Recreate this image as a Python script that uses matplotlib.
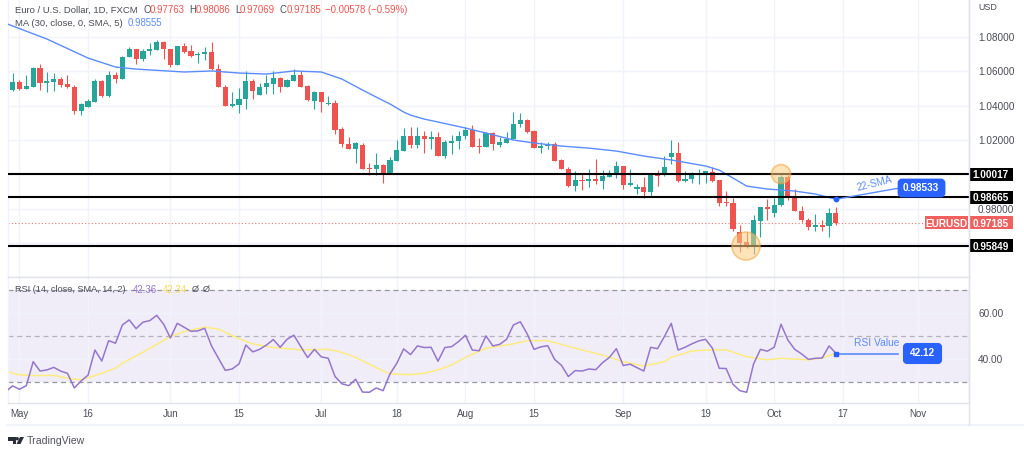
import numpy as np
import matplotlib
matplotlib.use("Agg")
import matplotlib.pyplot as plt
from matplotlib.patches import Rectangle, FancyBboxPatch, Ellipse, Circle, Polygon
from matplotlib.transforms import IdentityTransform

plt.rcParams['font.family'] = ['Liberation Sans', 'DejaVu Sans']

# EUR/USD daily candles
opens = [1.0491, 1.0538, 1.0495, 1.0511, 1.0619, 1.0534, 1.0540, 1.0557, 1.0524, 1.0511,
         1.0371, 1.0394, 1.0423, 1.0544, 1.0456, 1.0580, 1.0557, 1.0681, 1.0732, 1.0670,
         1.0720, 1.0724, 1.0773, 1.0732, 1.0639, 1.0745, 1.0716, 1.0693, 1.0699, 1.0712,
         1.0611, 1.0511, 1.0398, 1.0404, 1.0437, 1.0544, 1.0464, 1.0507, 1.0526, 1.0561,
         1.0511, 1.0544, 1.0580, 1.0515, 1.0429, 1.0482, 1.0410, 1.0417, 1.0262, 1.0177,
         1.0150, 1.0173, 1.0037, 1.0029, 1.0053, 1.0010, 1.0076, 1.0138, 1.0223, 1.0171,
         1.0223, 1.0204, 1.0216, 1.0109, 1.0184, 1.0196, 1.0223, 1.0258, 1.0165, 1.0161,
         1.0243, 1.0173, 1.0184, 1.0206, 1.0291, 1.0316, 1.0250, 1.0151, 1.0167, 1.0177,
         1.0084, 1.0031, 0.9934, 0.9967, 0.9959, 0.9971, 0.9959, 0.9987, 1.0006, 1.0051,
         0.9938, 0.9913, 0.9925, 0.9899, 1.0002, 0.9994, 1.0103, 1.0122, 0.9963, 0.9975,
         0.9994, 1.0006, 1.0015, 0.9967, 0.9839, 0.9831, 0.9666, 0.9606, 0.9587, 0.9730,
         0.9812, 0.9777, 0.9820, 0.9986, 0.9876, 0.9789, 0.9734, 0.9695, 0.9705, 0.9699,
         0.97763]
highs = [1.0592, 1.0549, 1.0579, 1.0627, 1.0641, 1.0598, 1.0588, 1.0569, 1.0577, 1.0522,
         1.0414, 1.0439, 1.0553, 1.0549, 1.0604, 1.0594, 1.0689, 1.0743, 1.0732, 1.0728,
         1.0767, 1.0782, 1.0778, 1.0732, 1.0749, 1.0763, 1.0751, 1.0714, 1.0743, 1.0771,
         1.0642, 1.0520, 1.0480, 1.0503, 1.0602, 1.0557, 1.0534, 1.0580, 1.0604, 1.0565,
         1.0553, 1.0611, 1.0604, 1.0518, 1.0483, 1.0482, 1.0456, 1.0433, 1.0274, 1.0219,
         1.0188, 1.0181, 1.0068, 1.0122, 1.0060, 1.0099, 1.0200, 1.0270, 1.0274, 1.0274,
         1.0250, 1.0254, 1.0247, 1.0200, 1.0227, 1.0250, 1.0274, 1.0289, 1.0210, 1.0249,
         1.0249, 1.0219, 1.0249, 1.0365, 1.0359, 1.0320, 1.0258, 1.0190, 1.0190, 1.0190,
         1.0087, 1.0045, 1.0020, 1.0002, 1.0029, 1.0087, 1.0025, 1.0025, 1.0080, 1.0051,
         1.0029, 0.9942, 0.9983, 1.0006, 1.0025, 1.0107, 1.0200, 1.0190, 1.0021, 1.0015,
         1.0029, 1.0021, 1.0041, 0.9967, 0.9905, 0.9860, 0.9705, 0.9666, 0.9763, 0.9812,
         0.9855, 0.9860, 0.9996, 0.9996, 0.9918, 0.9816, 0.9744, 0.9769, 0.9734, 0.9802,
         0.98086]
lows = [1.0487, 1.0491, 1.0495, 1.0507, 1.0491, 1.0482, 1.0487, 1.0507, 1.0503, 1.0352,
        1.0346, 1.0390, 1.0423, 1.0452, 1.0452, 1.0530, 1.0553, 1.0681, 1.0642, 1.0662,
        1.0695, 1.0724, 1.0674, 1.0623, 1.0635, 1.0708, 1.0685, 1.0650, 1.0666, 1.0608,
        1.0507, 1.0398, 1.0394, 1.0359, 1.0383, 1.0441, 1.0464, 1.0468, 1.0468, 1.0482,
        1.0507, 1.0544, 1.0507, 1.0429, 1.0379, 1.0365, 1.0406, 1.0235, 1.0161, 1.0146,
        1.0068, 1.0029, 0.9998, 0.9996, 0.9952, 1.0002, 1.0076, 1.0138, 1.0151, 1.0151,
        1.0126, 1.0146, 1.0107, 1.0095, 1.0118, 1.0146, 1.0208, 1.0161, 1.0122, 1.0157,
        1.0142, 1.0161, 1.0184, 1.0204, 1.0274, 1.0243, 1.0151, 1.0122, 1.0146, 1.0080,
        1.0033, 0.9928, 0.9901, 0.9909, 0.9925, 0.9944, 0.9913, 0.9983, 0.9977, 0.9913,
        0.9932, 0.9886, 0.9862, 0.9874, 0.9932, 0.9990, 1.0060, 0.9957, 0.9957, 0.9951,
        0.9944, 0.9948, 0.9957, 0.9816, 0.9816, 0.9668, 0.9550, 0.9569, 0.9536, 0.9637,
        0.9734, 0.9754, 0.9816, 0.9851, 0.9787, 0.9724, 0.9676, 0.9672, 0.9672, 0.9633,
        0.97069]
closes = [1.0538, 1.0495, 1.0515, 1.0619, 1.0534, 1.0544, 1.0557, 1.0522, 1.0507, 1.0371,
          1.0408, 1.0425, 1.0544, 1.0456, 1.0580, 1.0553, 1.0685, 1.0732, 1.0670, 1.0720,
          1.0730, 1.0773, 1.0728, 1.0639, 1.0745, 1.0714, 1.0691, 1.0699, 1.0712, 1.0611,
          1.0511, 1.0398, 1.0410, 1.0439, 1.0544, 1.0487, 1.0511, 1.0530, 1.0561, 1.0511,
          1.0549, 1.0580, 1.0511, 1.0433, 1.0482, 1.0423, 1.0417, 1.0258, 1.0177, 1.0150,
          1.0181, 1.0033, 1.0031, 1.0053, 1.0010, 1.0084, 1.0142, 1.0223, 1.0171, 1.0223,
          1.0206, 1.0216, 1.0109, 1.0188, 1.0196, 1.0223, 1.0258, 1.0161, 1.0159, 1.0243,
          1.0175, 1.0188, 1.0208, 1.0293, 1.0316, 1.0249, 1.0151, 1.0167, 1.0175, 1.0080,
          1.0033, 0.9934, 0.9967, 0.9959, 0.9971, 0.9959, 0.9990, 1.0010, 1.0051, 0.9938,
          0.9950, 0.9925, 0.9899, 1.0002, 0.9990, 1.0041, 1.0122, 0.9963, 0.9975, 0.9994,
          1.0006, 1.0017, 0.9963, 0.9835, 0.9831, 0.9684, 0.9602, 0.9587, 0.9734, 0.9812,
          0.9796, 0.9822, 0.9986, 0.9874, 0.9789, 0.9734, 0.9695, 0.9705, 0.9695, 0.9773,
          0.97185]

ma_bars = [-1, 5, 11, 15, 18, 25, 29, 33, 37, 41, 45, 48, 51, 53, 55, 57, 58, 60, 62, 66, 69,
           73, 76, 80, 84, 88, 92, 96, 101, 103, 105, 107, 110, 114, 117, 120]
ma_values = [1.0879, 1.0788, 1.0677, 1.0625, 1.0613, 1.0596, 1.0602, 1.0590, 1.0584, 1.0602,
             1.0596, 1.0555, 1.0491, 1.0450, 1.0410, 1.0363, 1.0345, 1.0322, 1.0305, 1.0270,
             1.0241, 1.0200, 1.0183, 1.0165, 1.0153, 1.0136, 1.0107, 1.0084, 1.0049, 1.0025,
             0.9979, 0.9932, 0.9915, 0.9903, 0.9886, 0.98555]

rsi_values = [25.7, 28.2, 26.7, 28.3, 38.8, 34.7, 35.2, 36.3, 34.7, 33.7, 27.3, 30.4, 32.9,
              43.9, 39.1, 48.0, 46.9, 54.9, 57.1, 53.3, 56.1, 56.8, 59.1, 55.3, 49.2, 55.6,
              53.9, 52.1, 52.3, 53.4, 45.7, 40.3, 35.0, 35.6, 37.8, 46.1, 43.1, 44.2, 46.1,
              48.5, 45.1, 48.6, 50.4, 45.4, 40.6, 44.2, 40.9, 40.3, 32.3, 29.1, 28.3, 31.1,
              25.5, 25.4, 27.3, 26.1, 33.4, 38.1, 44.4, 41.9, 45.7, 45.0, 45.1, 39.0, 45.0,
              45.4, 47.6, 50.4, 43.9, 43.6, 50.1, 45.7, 46.4, 48.6, 54.9, 56.3, 51.0, 44.2,
              45.3, 45.8, 39.8, 37.2, 32.3, 34.9, 34.7, 35.6, 35.3, 38.4, 40.7, 44.5, 37.1,
              37.7, 36.2, 34.7, 45.1, 44.5, 49.8, 55.6, 43.9, 45.1, 46.6, 47.9, 48.6, 44.7,
              35.9, 35.8, 28.9, 26.1, 25.4, 37.8, 44.2, 43.4, 45.1, 55.2, 48.3, 44.2, 42.2,
              39.8, 40.3, 40.4, 45.7, 42.5]
rsi_bars = list(range(-1, 121))

rsi_ma_bars = [-1, 1, 3, 6, 8, 10, 13, 15, 16, 19, 23, 25, 27, 28, 30, 33, 35, 38, 42, 46, 48,
               50, 52, 55, 58, 60, 62, 64, 66, 69, 73, 75, 78, 82, 86, 89, 92, 95, 96, 99,
               102, 104, 107, 110, 112, 116, 118, 120]
rsi_ma_values = [34.5, 33.0, 32.7, 32.8, 31.5, 30.8, 33.7, 35.9, 38.1, 42.9, 49.8, 52.0, 53.3,
                 53.9, 53.1, 48.9, 46.6, 45.0, 44.0, 44.2, 42.9, 40.7, 37.7, 33.4, 33.1, 33.7,
                 35.2, 37.4, 40.7, 44.7, 46.6, 48.0, 48.0, 44.7, 41.7, 38.8, 36.9, 38.8, 40.7,
                 43.5, 44.0, 44.0, 41.0, 39.6, 40.3, 39.6, 40.4, 42.5]

date_ticks = [1, 11, 23, 33, 45, 56, 66, 76, 89, 101, 111, 121, 132]
date_labels = ['May', '16', 'Jun', '15', 'Jul', '18', 'Aug', '15', 'Sep', '19', 'Oct', '17', 'Nov']
price_ticks = [1.08, 1.06, 1.04, 1.02, 1.00, 0.98, 0.96]
price_labels = ['1.08000', '1.06000', '1.04000', '1.02000', '', '0.98000', '']
level_values = [1.00017, 0.98665, 0.95849]
level_labels = ['1.00017', '0.98665', '0.95849']

GREEN = '#26a69a'
RED = '#ef5350'
BLUE = '#2962ff'
SOFT_BLUE = '#5b8cff'
GRID = '#f0f3fa'
BORDER = '#e0e3eb'
TEXT = '#4a4d57'
NUM_SIZE = 7.2
LABEL_SIZE = 6.8

W, H = 1024, 454
fig = plt.figure(figsize=(W / 100, H / 100), dpi=100)


def pane(top, bottom):
    return fig.add_axes([8 / W, 1 - bottom / H, 961 / W, (bottom - top) / H])


def px_text(x, y, s, **kw):
    # position in screenshot pixels, y going down
    kw.setdefault('fontsize', NUM_SIZE)
    kw.setdefault('va', 'center')
    return fig.text(x / W, 1 - y / H, s, **kw)


ax = pane(0, 277)
ax_rsi = pane(277, 403)

for a in (ax, ax_rsi):
    a.set_xlim(-0.67, 139.4)
    a.set_xticks(date_ticks)
    a.grid(True, color=GRID, lw=1)
    a.set_axisbelow(True)
    a.yaxis.tick_right()
    a.tick_params(length=0, labelcolor=TEXT, labelsize=NUM_SIZE, pad=6.5)
    for name, sp in a.spines.items():
        sp.set_color(BORDER)
        sp.set_linewidth(1)
ax.spines['top'].set_visible(False)
ax.spines['left'].set_color(GRID)
ax_rsi.spines['left'].set_color(GRID)

# candles
bars = np.arange(len(opens))
o = np.array(opens)
c = np.array(closes)
colors = [GREEN if c[i] >= o[i] else RED for i in bars]
ax.vlines(bars, lows, highs, colors=colors, lw=0.8, zorder=2)
ax.bar(bars, np.abs(c - o), bottom=np.minimum(o, c), width=0.75, color=colors, zorder=3)

ax.plot(ma_bars, ma_values, color=SOFT_BLUE, lw=1.0, zorder=4)

ax.set_ylim(0.9403, 1.1015)
ax.set_yticks(price_ticks)
ax.set_yticklabels(price_labels)
ax.tick_params(axis='x', labelbottom=False)

# support / resistance levels
for lev in level_values:
    ax.axhline(lev, color='black', lw=1.5, zorder=5)
ax.axhline(closes[-1], color=RED, lw=0.8, ls=(0, (1, 2)), alpha=0.8, zorder=1)

# highlighted turning points
ax.add_patch(Ellipse((106.9, 0.9583), 4.1, 0.0163, fc='#ffcc80', ec='#f5a33c', lw=1.2,
                     alpha=0.55, zorder=6))
ax.add_patch(Ellipse((112, 1.0002), 2.8, 0.0111, fc='#ffcc80', ec='#f5a33c', lw=1.2,
                     alpha=0.55, zorder=6))


def axis_box(a, value, text, fc, x0=969, x1=1013, h_px=13):
    # label glued to the right price scale
    trans = a.get_yaxis_transform()
    ymin, ymax = a.get_ylim()
    bbox = a.get_position()
    h = h_px * (ymax - ymin) / (bbox.height * H)
    a.add_patch(Rectangle(((x0 - 8) / 961, value - h / 2), (x1 - x0) / 961, h, transform=trans,
                          fc=fc, ec='none', clip_on=False, zorder=7))
    a.text(((x0 + x1) / 2 - 8) / 961, value, text, transform=trans, color='white', fontsize=NUM_SIZE,
           fontweight='bold', ha='center', va='center_baseline', zorder=8)


for lev, lab in zip(level_values, level_labels):
    axis_box(ax, lev, lab, 'black')
axis_box(ax, closes[-1], '0.97185', '#f0605e')
axis_box(ax, closes[-1], 'EURUSD', '#f0605e', x0=925, x1=968)

# callouts
ax.plot([120, 129], [ma_values[-1], 0.9919], color=SOFT_BLUE, lw=1.0, zorder=6)
ax.plot([120], [ma_values[-1]], 'o', color=BLUE, ms=3.2, zorder=7)
fig.add_artist(FancyBboxPatch((899, H - 196), 45, 16, boxstyle='round,pad=0,rounding_size=3',
                              mutation_aspect=1, fc=BLUE, ec=BLUE, lw=2,
                              transform=IdentityTransform(), joinstyle='round'))
px_text(921, 188, '0.98533', color='white', ha='center', fontweight='bold')
px_text(874, 184, '22-SMA', color=SOFT_BLUE, ha='center', rotation=14, fontsize=7.2)

# RSI pane
ax_rsi.axhspan(30, 70, color='#7e57c2', alpha=0.1, lw=0, zorder=0)
for lev in (70, 50, 30):
    ax_rsi.axhline(lev, color='#8a8d96', lw=0.9, ls=(0, (4, 3)), alpha=0.9 if lev != 50 else 0.6, zorder=1)
ax_rsi.plot(rsi_ma_bars, rsi_ma_values, color='#fdeb7f', lw=1.1, zorder=2)
ax_rsi.plot(rsi_bars, rsi_values, color='#9575cd', lw=1.1, zorder=3)
ax_rsi.set_ylim(20.7, 75.9)
ax_rsi.set_yticks([60, 40])
ax_rsi.set_yticklabels(['60.00', '40.00'])
ax_rsi.set_xticklabels(date_labels)
ax_rsi.tick_params(axis='x', pad=4.5, labelsize=7.0)

ax_rsi.plot([120, 129], [42.12, 42.12], color=SOFT_BLUE, lw=1.2, zorder=4)
ax_rsi.plot([120], [42.12], 's', color=BLUE, ms=2.6, zorder=5)
fig.add_artist(FancyBboxPatch((904, H - 363), 37, 19, boxstyle='round,pad=0,rounding_size=3',
                              mutation_aspect=1, fc=BLUE, ec=BLUE, lw=1.5,
                              transform=IdentityTransform(), joinstyle='round'))
px_text(922.5, 353.5, '42.12', color='white', ha='center', fontweight='bold')
px_text(877, 343.5, 'RSI Value', color=SOFT_BLUE, ha='center', fontsize=7.4)

# time axis strip
fig.add_artist(plt.Line2D([7, 1024], [H - 425, H - 425], color=GRID, lw=1.4,
                          transform=IdentityTransform()))
fig.add_artist(plt.Line2D([969, 969], [H - 425, H], color=BORDER, lw=1,
                          transform=IdentityTransform()))

# top legends
px_text(15, 10, 'Euro / U.S. Dollar, 1D, FXCM', color=TEXT, fontsize=LABEL_SIZE)
for x, s, col in [(143, 'O', TEXT), (150, '0.97763', RED), (189, 'H', TEXT), (196, '0.98086', RED),
                  (235, 'L', TEXT), (240, '0.97069', RED), (280, 'C', TEXT), (287, '0.97185', RED),
                  (325, '\u22120.00578 (\u22120.59%)', RED)]:
    px_text(x, 10, s, color=col, fontsize=6.9)
px_text(15, 23, 'MA (30, close, 0, SMA, 5)', color=TEXT, fontsize=LABEL_SIZE)
px_text(128, 23, '0.98555', color=SOFT_BLUE, fontsize=6.9)
px_text(978, 8, 'USD', color=TEXT, fontsize=6.4)

px_text(15, 290, 'RSI (14, close, SMA, 14, 2)', color=TEXT, fontsize=6.6)
px_text(133, 290, '42.36', color='#9575cd', fontsize=6.9)
px_text(163, 290, '42.34', color='#f5dc5a', fontsize=6.9)
px_text(192, 290, '\u00d8', color=TEXT, fontsize=6.6)
px_text(203, 290, '\u00d8', color=TEXT, fontsize=6.6)

# TradingView logo
ink = '#2a2e39'
idt = IdentityTransform()
fig.add_artist(Polygon([(8, H - 437), (16, H - 437), (16, H - 444), (12.5, H - 444), (12.5, H - 440.5), (8, H - 440.5)],
                       fc=ink, ec='none', transform=idt))
fig.add_artist(Circle((17.2, H - 438.7), 1.7, fc=ink, ec='none', transform=idt))
fig.add_artist(Polygon([(20, H - 437), (24, H - 437), (20.5, H - 444), (16.5, H - 444)],
                       fc=ink, ec='none', transform=idt))
px_text(27, 440.5, 'TradingView', color='#50535e', fontsize=7.6)

fig.savefig('out.png', dpi=100, facecolor='white')
